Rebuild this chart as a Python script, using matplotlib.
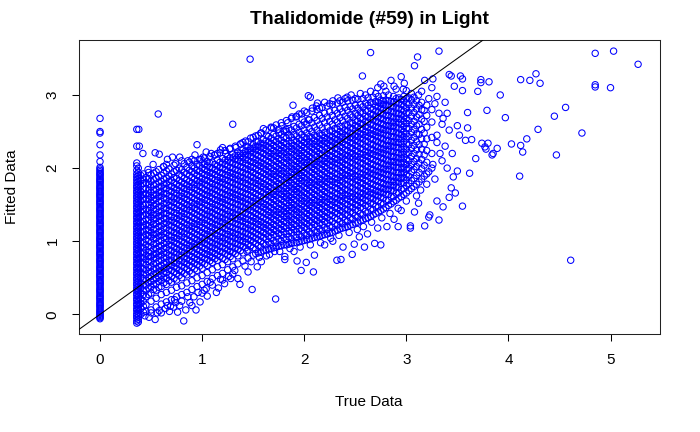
import matplotlib
matplotlib.use("Agg")
import matplotlib.pyplot as plt

plt.rcParams['font.family'] = ['Liberation Sans', 'DejaVu Sans']

# true = 0 column
zero_fit = [-0.06, -0.045, -0.03, -0.015, 0.00, 0.015, 0.03, 0.045, 0.06, 0.08, 0.10, 0.115, 0.13,
            0.145, 0.16, 0.18, 0.20, 0.215, 0.23, 0.245, 0.26, 0.28, 0.30, 0.315, 0.33, 0.345,
            0.36, 0.38, 0.40, 0.415, 0.43, 0.445, 0.46, 0.48, 0.50, 0.515, 0.53, 0.545, 0.56,
            0.58, 0.60, 0.615, 0.63, 0.645, 0.66, 0.68, 0.70, 0.715, 0.73, 0.745, 0.76, 0.78,
            0.80, 0.815, 0.83, 0.845, 0.86, 0.88, 0.90, 0.915, 0.93, 0.945, 0.96, 0.98, 1.00,
            1.015, 1.03, 1.045, 1.06, 1.08, 1.10, 1.115, 1.13, 1.145, 1.16, 1.18, 1.20, 1.215,
            1.23, 1.245, 1.26, 1.28, 1.30, 1.315, 1.33, 1.345, 1.36, 1.38, 1.40, 1.415, 1.43,
            1.445, 1.46, 1.48, 1.50, 1.515, 1.53, 1.545, 1.56, 1.58, 1.60, 1.615, 1.63, 1.645,
            1.66, 1.68, 1.70, 1.715, 1.73, 1.745, 1.76, 1.78, 1.80, 1.815, 1.83, 1.845, 1.86,
            1.88, 1.90, 1.915, 1.93, 1.95, 1.97, 1.99, 2.01, 2.09, 2.18, 2.32, 2.48, 2.50, 2.68]

# true ~ 0.36 column (two close strips)
low_true = [0.36, 0.375]
low_fit_a = [-0.12, -0.09, -0.05, -0.02, 0.01, 0.05, 0.08, 0.12, 0.15, 0.19, 0.22, 0.26, 0.29, 0.33,
             0.36, 0.40, 0.43, 0.47, 0.50, 0.54, 0.57, 0.61, 0.64, 0.68, 0.71, 0.75, 0.78, 0.82,
             0.85, 0.89, 0.92, 0.96, 0.99, 1.03, 1.06, 1.10, 1.13, 1.17, 1.20, 1.24, 1.27, 1.31,
             1.34, 1.38, 1.41, 1.45, 1.48, 1.52, 1.55, 1.59, 1.62, 1.66, 1.69, 1.73, 1.76, 1.80,
             1.84, 1.88, 1.92, 1.97, 2.03, 2.07, 2.30, 2.53]
low_fit_b = [-0.105, -0.07, -0.035, -0.005, 0.03, 0.065, 0.10, 0.135, 0.17, 0.205, 0.24, 0.275,
             0.31, 0.345, 0.38, 0.415, 0.45, 0.485, 0.52, 0.555, 0.59, 0.625, 0.66, 0.695, 0.73,
             0.765, 0.80, 0.835, 0.87, 0.905, 0.94, 0.975, 1.01, 1.045, 1.08, 1.115, 1.15, 1.185,
             1.22, 1.255, 1.29, 1.325, 1.36, 1.395, 1.43, 1.465, 1.50, 1.535, 1.57, 1.605, 1.64,
             1.675, 1.71, 1.745, 1.78, 1.82, 1.86, 1.90, 1.94, 2.00]

# main cloud, one list of fitted values per true-value strip
core_true = [0.40, 0.45, 0.50, 0.55, 0.60, 0.65, 0.70, 0.75, 0.80, 0.85, 0.90, 0.95,
             1.00, 1.05, 1.10, 1.15, 1.20, 1.25, 1.30, 1.35, 1.40, 1.45, 1.50, 1.55,
             1.60, 1.65, 1.70, 1.75, 1.80, 1.85, 1.90, 1.95, 2.00, 2.05, 2.10, 2.15,
             2.20, 2.25, 2.30, 2.35, 2.40, 2.45, 2.50, 2.55, 2.60, 2.65, 2.70, 2.75,
             2.80, 2.85, 2.90, 2.95, 3.00, 3.05, 3.10, 3.15, 3.20, 3.25]
core_fit = [
    [0.00, 0.08, 0.15, 0.21, 0.29, 0.36, 0.42, 0.50, 0.57, 0.63, 0.71, 0.78, 0.84, 0.92, 0.99, 1.05, 1.13, 1.20, 1.26, 1.34, 1.41, 1.47, 1.55, 1.62, 1.68, 1.76, 1.83, 1.90],
    [0.04, 0.13, 0.24, 0.33, 0.40, 0.47, 0.54, 0.61, 0.68, 0.75, 0.81, 0.88, 0.95, 1.02, 1.09, 1.16, 1.23, 1.30, 1.37, 1.44, 1.51, 1.58, 1.65, 1.72, 1.80, 1.87],
    [0.06, 0.18, 0.29, 0.38, 0.45, 0.52, 0.58, 0.66, 0.72, 0.79, 0.86, 0.92, 0.99, 1.06, 1.12, 1.19, 1.26, 1.33, 1.39, 1.46, 1.53, 1.60, 1.67, 1.74, 1.82, 1.91],
    [0.10, 0.22, 0.33, 0.42, 0.49, 0.56, 0.63, 0.70, 0.77, 0.83, 0.90, 0.97, 1.04, 1.10, 1.17, 1.24, 1.31, 1.37, 1.44, 1.51, 1.58, 1.64, 1.71, 1.78, 1.86, 1.95],
    [0.14, 0.27, 0.38, 0.47, 0.53, 0.60, 0.67, 0.74, 0.81, 0.87, 0.94, 1.01, 1.08, 1.14, 1.21, 1.28, 1.35, 1.41, 1.48, 1.55, 1.62, 1.68, 1.75, 1.82, 1.90],
    [0.17, 0.30, 0.41, 0.50, 0.57, 0.64, 0.71, 0.77, 0.84, 0.91, 0.98, 1.04, 1.11, 1.18, 1.25, 1.31, 1.38, 1.45, 1.52, 1.58, 1.65, 1.72, 1.79, 1.86, 1.96],
    [0.20, 0.33, 0.44, 0.52, 0.60, 0.67, 0.74, 0.80, 0.87, 0.94, 1.01, 1.07, 1.14, 1.21, 1.28, 1.34, 1.41, 1.48, 1.55, 1.61, 1.68, 1.75, 1.83, 1.92],
    [0.24, 0.37, 0.47, 0.56, 0.63, 0.70, 0.77, 0.84, 0.90, 0.97, 1.04, 1.11, 1.17, 1.24, 1.31, 1.38, 1.44, 1.51, 1.58, 1.65, 1.71, 1.78, 1.86, 1.97],
    [0.27, 0.39, 0.50, 0.59, 0.66, 0.73, 0.80, 0.86, 0.93, 1.00, 1.07, 1.13, 1.20, 1.27, 1.34, 1.40, 1.47, 1.54, 1.61, 1.67, 1.74, 1.81, 1.89, 1.98],
    [0.30, 0.43, 0.54, 0.62, 0.69, 0.76, 0.83, 0.90, 0.96, 1.03, 1.10, 1.17, 1.23, 1.30, 1.37, 1.44, 1.50, 1.57, 1.64, 1.71, 1.77, 1.84, 1.92, 2.01],
    [0.34, 0.46, 0.56, 0.65, 0.72, 0.79, 0.86, 0.93, 0.99, 1.06, 1.13, 1.20, 1.26, 1.33, 1.40, 1.47, 1.53, 1.60, 1.67, 1.74, 1.80, 1.87, 1.95, 2.03],
    [0.38, 0.50, 0.60, 0.68, 0.75, 0.82, 0.89, 0.96, 1.02, 1.09, 1.16, 1.23, 1.29, 1.36, 1.43, 1.50, 1.56, 1.63, 1.70, 1.77, 1.83, 1.90, 1.97, 2.05],
    [0.41, 0.53, 0.63, 0.71, 0.78, 0.85, 0.92, 0.99, 1.05, 1.12, 1.19, 1.26, 1.32, 1.39, 1.46, 1.53, 1.59, 1.66, 1.73, 1.80, 1.86, 1.93, 2.00, 2.07],
    [0.45, 0.57, 0.67, 0.75, 0.82, 0.88, 0.95, 1.02, 1.09, 1.15, 1.22, 1.29, 1.36, 1.42, 1.49, 1.56, 1.63, 1.69, 1.76, 1.83, 1.90, 1.96, 2.03, 2.09],
    [0.49, 0.61, 0.71, 0.78, 0.85, 0.92, 0.98, 1.05, 1.12, 1.19, 1.25, 1.32, 1.39, 1.46, 1.52, 1.59, 1.66, 1.73, 1.79, 1.86, 1.93, 2.00, 2.08],
    [0.53, 0.65, 0.74, 0.81, 0.88, 0.95, 1.02, 1.08, 1.15, 1.22, 1.29, 1.35, 1.42, 1.49, 1.56, 1.62, 1.69, 1.76, 1.83, 1.89, 1.96, 2.03, 2.11],
    [0.56, 0.68, 0.77, 0.85, 0.92, 0.99, 1.05, 1.12, 1.19, 1.26, 1.32, 1.39, 1.46, 1.53, 1.59, 1.66, 1.73, 1.80, 1.86, 1.93, 2.00, 2.07, 2.13],
    [0.61, 0.72, 0.81, 0.88, 0.95, 1.02, 1.09, 1.15, 1.22, 1.29, 1.36, 1.42, 1.49, 1.56, 1.63, 1.69, 1.76, 1.83, 1.90, 1.96, 2.03, 2.10, 2.16],
    [0.65, 0.76, 0.85, 0.92, 0.99, 1.06, 1.12, 1.19, 1.26, 1.33, 1.39, 1.46, 1.53, 1.60, 1.66, 1.73, 1.80, 1.87, 1.93, 2.00, 2.07, 2.14, 2.19],
    [0.69, 0.80, 0.89, 0.96, 1.03, 1.09, 1.16, 1.23, 1.30, 1.36, 1.43, 1.50, 1.57, 1.63, 1.70, 1.77, 1.84, 1.90, 1.97, 2.04, 2.11, 2.17, 2.22],
    [0.73, 0.84, 0.93, 1.00, 1.06, 1.13, 1.20, 1.27, 1.33, 1.40, 1.47, 1.54, 1.60, 1.67, 1.74, 1.81, 1.87, 1.94, 2.01, 2.08, 2.14, 2.20, 2.25],
    [0.77, 0.88, 0.96, 1.03, 1.10, 1.17, 1.23, 1.30, 1.37, 1.44, 1.50, 1.57, 1.64, 1.71, 1.77, 1.84, 1.91, 1.98, 2.04, 2.11, 2.18, 2.24, 2.29],
    [0.81, 0.91, 0.99, 1.06, 1.13, 1.20, 1.27, 1.33, 1.40, 1.47, 1.54, 1.60, 1.67, 1.74, 1.81, 1.87, 1.94, 2.01, 2.08, 2.14, 2.21, 2.27, 2.32],
    [0.84, 0.94, 1.02, 1.09, 1.16, 1.23, 1.29, 1.36, 1.43, 1.50, 1.56, 1.63, 1.70, 1.77, 1.83, 1.90, 1.97, 2.04, 2.10, 2.17, 2.24, 2.30, 2.36],
    [0.87, 0.97, 1.05, 1.12, 1.19, 1.25, 1.32, 1.39, 1.46, 1.52, 1.59, 1.66, 1.73, 1.79, 1.86, 1.93, 2.00, 2.06, 2.13, 2.20, 2.27, 2.33, 2.39],
    [0.89, 0.99, 1.07, 1.14, 1.21, 1.28, 1.35, 1.41, 1.48, 1.55, 1.62, 1.68, 1.75, 1.82, 1.89, 1.95, 2.02, 2.09, 2.16, 2.22, 2.29, 2.36, 2.43],
    [0.91, 1.01, 1.09, 1.16, 1.23, 1.30, 1.37, 1.43, 1.50, 1.57, 1.64, 1.70, 1.77, 1.84, 1.91, 1.97, 2.04, 2.11, 2.18, 2.24, 2.31, 2.38, 2.46],
    [0.93, 1.03, 1.11, 1.18, 1.25, 1.32, 1.39, 1.45, 1.52, 1.59, 1.66, 1.72, 1.79, 1.86, 1.93, 1.99, 2.06, 2.13, 2.20, 2.26, 2.33, 2.40, 2.48],
    [0.95, 1.05, 1.13, 1.20, 1.27, 1.34, 1.41, 1.47, 1.54, 1.61, 1.68, 1.74, 1.81, 1.88, 1.95, 2.01, 2.08, 2.15, 2.22, 2.28, 2.35, 2.42, 2.51],
    [0.96, 1.06, 1.14, 1.22, 1.29, 1.35, 1.42, 1.49, 1.56, 1.62, 1.69, 1.76, 1.83, 1.89, 1.96, 2.03, 2.10, 2.16, 2.23, 2.30, 2.37, 2.45, 2.54],
    [0.98, 1.08, 1.16, 1.23, 1.30, 1.37, 1.44, 1.50, 1.57, 1.64, 1.71, 1.77, 1.84, 1.91, 1.98, 2.04, 2.11, 2.18, 2.25, 2.31, 2.38, 2.46, 2.57],
    [0.99, 1.09, 1.17, 1.25, 1.32, 1.39, 1.45, 1.52, 1.59, 1.66, 1.72, 1.79, 1.86, 1.93, 1.99, 2.06, 2.13, 2.20, 2.26, 2.33, 2.40, 2.49, 2.60],
    [1.01, 1.11, 1.19, 1.26, 1.33, 1.40, 1.47, 1.54, 1.60, 1.67, 1.74, 1.81, 1.87, 1.94, 2.01, 2.08, 2.14, 2.21, 2.28, 2.35, 2.42, 2.52, 2.63],
    [1.03, 1.13, 1.21, 1.28, 1.35, 1.42, 1.49, 1.55, 1.62, 1.69, 1.76, 1.82, 1.89, 1.96, 2.03, 2.09, 2.16, 2.23, 2.30, 2.36, 2.43, 2.54, 2.66],
    [1.05, 1.15, 1.23, 1.30, 1.37, 1.44, 1.51, 1.57, 1.64, 1.71, 1.78, 1.84, 1.91, 1.98, 2.05, 2.11, 2.18, 2.25, 2.32, 2.38, 2.45, 2.56, 2.69],
    [1.07, 1.17, 1.25, 1.32, 1.39, 1.46, 1.53, 1.59, 1.66, 1.73, 1.80, 1.86, 1.93, 2.00, 2.07, 2.13, 2.20, 2.27, 2.34, 2.40, 2.47, 2.59, 2.72],
    [1.09, 1.19, 1.27, 1.34, 1.41, 1.48, 1.55, 1.61, 1.68, 1.75, 1.82, 1.88, 1.95, 2.02, 2.09, 2.15, 2.22, 2.29, 2.36, 2.42, 2.49, 2.62, 2.75],
    [1.11, 1.21, 1.29, 1.36, 1.43, 1.50, 1.57, 1.63, 1.70, 1.77, 1.84, 1.90, 1.97, 2.04, 2.11, 2.17, 2.24, 2.31, 2.38, 2.44, 2.51, 2.64, 2.77],
    [1.14, 1.24, 1.32, 1.39, 1.46, 1.53, 1.59, 1.66, 1.73, 1.80, 1.86, 1.93, 2.00, 2.07, 2.13, 2.20, 2.27, 2.34, 2.40, 2.47, 2.54, 2.66, 2.79],
    [1.17, 1.27, 1.35, 1.42, 1.49, 1.56, 1.62, 1.69, 1.76, 1.83, 1.89, 1.96, 2.03, 2.10, 2.16, 2.23, 2.30, 2.37, 2.43, 2.50, 2.57, 2.69, 2.81],
    [1.19, 1.29, 1.37, 1.44, 1.51, 1.58, 1.64, 1.71, 1.78, 1.85, 1.91, 1.98, 2.05, 2.12, 2.18, 2.25, 2.32, 2.39, 2.45, 2.52, 2.59, 2.71, 2.83],
    [1.22, 1.32, 1.40, 1.47, 1.54, 1.61, 1.67, 1.74, 1.81, 1.88, 1.94, 2.01, 2.08, 2.15, 2.21, 2.28, 2.35, 2.42, 2.48, 2.55, 2.62, 2.73, 2.84],
    [1.25, 1.35, 1.43, 1.50, 1.57, 1.63, 1.70, 1.77, 1.84, 1.90, 1.97, 2.04, 2.11, 2.17, 2.24, 2.31, 2.38, 2.44, 2.51, 2.58, 2.65, 2.75, 2.86],
    [1.28, 1.38, 1.46, 1.53, 1.60, 1.66, 1.73, 1.80, 1.87, 1.93, 2.00, 2.07, 2.14, 2.20, 2.27, 2.34, 2.41, 2.47, 2.54, 2.61, 2.68, 2.77, 2.87],
    [1.31, 1.41, 1.49, 1.56, 1.63, 1.69, 1.76, 1.83, 1.90, 1.96, 2.03, 2.10, 2.17, 2.23, 2.30, 2.37, 2.44, 2.50, 2.57, 2.64, 2.71, 2.79, 2.89],
    [1.34, 1.44, 1.52, 1.59, 1.66, 1.72, 1.79, 1.86, 1.93, 1.99, 2.06, 2.13, 2.20, 2.26, 2.33, 2.40, 2.47, 2.53, 2.60, 2.67, 2.74, 2.82, 2.90],
    [1.38, 1.48, 1.56, 1.63, 1.69, 1.76, 1.83, 1.90, 1.96, 2.03, 2.10, 2.17, 2.23, 2.30, 2.37, 2.44, 2.50, 2.57, 2.64, 2.71, 2.78, 2.85, 2.91],
    [1.42, 1.52, 1.60, 1.67, 1.73, 1.80, 1.87, 1.94, 2.00, 2.07, 2.14, 2.21, 2.27, 2.34, 2.41, 2.48, 2.54, 2.61, 2.68, 2.75, 2.82, 2.88, 2.93],
    [1.46, 1.56, 1.64, 1.71, 1.77, 1.84, 1.91, 1.98, 2.04, 2.11, 2.18, 2.25, 2.31, 2.38, 2.45, 2.52, 2.58, 2.65, 2.72, 2.79, 2.86, 2.93],
    [1.51, 1.61, 1.69, 1.76, 1.82, 1.89, 1.96, 2.03, 2.09, 2.16, 2.23, 2.30, 2.36, 2.43, 2.50, 2.57, 2.63, 2.70, 2.77, 2.84, 2.91],
    [1.56, 1.66, 1.74, 1.81, 1.87, 1.94, 2.01, 2.08, 2.14, 2.21, 2.28, 2.35, 2.41, 2.48, 2.55, 2.62, 2.68, 2.75, 2.82, 2.89, 2.95],
    [1.61, 1.71, 1.79, 1.86, 1.92, 1.99, 2.06, 2.13, 2.19, 2.26, 2.33, 2.40, 2.46, 2.53, 2.60, 2.67, 2.73, 2.80, 2.87, 2.94],
    [1.66, 1.76, 1.84, 1.91, 1.98, 2.05, 2.12, 2.19, 2.26, 2.33, 2.40, 2.47, 2.54, 2.61, 2.68, 2.75, 2.82, 2.89, 2.95],
    [1.72, 1.83, 1.95, 2.05, 2.16, 2.27, 2.38, 2.49, 2.60, 2.71, 2.82, 2.93],
    [1.78, 1.90, 2.02, 2.13, 2.25, 2.36, 2.47, 2.58, 2.70, 2.81, 2.92],
    [1.85, 1.99, 2.12, 2.26, 2.40, 2.53, 2.67, 2.80, 2.90],
    [1.92, 2.08, 2.24, 2.40, 2.56, 2.72, 2.86],
    [2.00, 2.20, 2.42, 2.63, 2.80],
]

# second set of strips between the first ones
mid_true = [0.425, 0.475, 0.525, 0.575, 0.625, 0.675, 0.725, 0.775, 0.825, 0.875, 0.925, 0.975,
            1.025, 1.075, 1.125, 1.175, 1.225, 1.275, 1.325, 1.375, 1.425, 1.475, 1.525, 1.575,
            1.625, 1.675, 1.725, 1.775, 1.825, 1.875, 1.925, 1.975, 2.025, 2.075, 2.125, 2.175,
            2.225, 2.275, 2.325, 2.375, 2.425, 2.475, 2.525, 2.575, 2.625, 2.675, 2.725, 2.775,
            2.825, 2.875, 2.925, 2.975, 3.025, 3.075, 3.125, 3.175]
mid_fit = [
    [0.03, 0.11, 0.18, 0.27, 0.33, 0.40, 0.49, 0.55, 0.62, 0.71, 0.77, 0.85, 0.91, 0.98, 1.07, 1.13, 1.21, 1.27, 1.35, 1.43, 1.49, 1.58, 1.64, 1.71, 1.79, 1.85, 1.92],
    [0.27, 0.36, 0.43, 0.50, 0.58, 0.64, 0.72, 0.79, 0.85, 0.93, 1.00, 1.08, 1.15, 1.21, 1.29, 1.36, 1.42, 1.50, 1.57, 1.63, 1.70, 1.78, 1.85, 1.94],
    [0.34, 0.41, 0.47, 0.55, 0.62, 0.69, 0.76, 0.82, 0.89, 0.96, 1.03, 1.09, 1.16, 1.23, 1.29, 1.36, 1.43, 1.49, 1.56, 1.63, 1.70, 1.77, 1.84, 1.93],
    [0.37, 0.45, 0.51, 0.59, 0.65, 0.73, 0.80, 0.86, 0.93, 1.00, 1.07, 1.13, 1.20, 1.27, 1.34, 1.40, 1.47, 1.54, 1.61, 1.67, 1.74, 1.81, 1.88, 1.98],
    [0.43, 0.50, 0.56, 0.63, 0.70, 0.77, 0.84, 0.90, 0.97, 1.05, 1.11, 1.18, 1.24, 1.31, 1.38, 1.45, 1.51, 1.59, 1.65, 1.72, 1.78, 1.85, 1.93, 2.02],
    [0.46, 0.54, 0.61, 0.67, 0.74, 0.81, 0.88, 0.95, 1.01, 1.08, 1.15, 1.22, 1.28, 1.35, 1.42, 1.49, 1.55, 1.62, 1.69, 1.76, 1.82, 1.89, 1.99],
    [0.49, 0.58, 0.65, 0.71, 0.78, 0.85, 0.92, 0.99, 1.05, 1.12, 1.19, 1.26, 1.32, 1.39, 1.46, 1.53, 1.59, 1.66, 1.73, 1.80, 1.87, 1.95, 2.04],
    [0.53, 0.60, 0.68, 0.74, 0.81, 0.88, 0.95, 1.02, 1.08, 1.15, 1.22, 1.29, 1.35, 1.42, 1.49, 1.56, 1.62, 1.69, 1.76, 1.83, 1.91, 2.00],
    [0.56, 0.64, 0.71, 0.77, 0.84, 0.91, 0.98, 1.05, 1.11, 1.18, 1.25, 1.32, 1.38, 1.45, 1.52, 1.59, 1.65, 1.72, 1.79, 1.86, 1.94, 2.06],
    [0.59, 0.67, 0.74, 0.81, 0.88, 0.94, 1.01, 1.08, 1.15, 1.21, 1.28, 1.35, 1.42, 1.48, 1.55, 1.62, 1.69, 1.75, 1.82, 1.90, 1.97, 2.08],
    [0.62, 0.70, 0.77, 0.84, 0.91, 0.97, 1.04, 1.11, 1.18, 1.24, 1.31, 1.38, 1.45, 1.51, 1.58, 1.65, 1.72, 1.78, 1.85, 1.93, 2.00, 2.10],
    [0.66, 0.73, 0.80, 0.87, 0.94, 1.00, 1.07, 1.14, 1.21, 1.27, 1.34, 1.41, 1.48, 1.54, 1.61, 1.68, 1.75, 1.81, 1.88, 1.96, 2.03, 2.12],
    [0.69, 0.76, 0.83, 0.90, 0.97, 1.03, 1.10, 1.17, 1.24, 1.30, 1.37, 1.44, 1.51, 1.57, 1.64, 1.71, 1.78, 1.84, 1.91, 1.98, 2.05, 2.14],
    [0.73, 0.80, 0.86, 0.93, 1.00, 1.07, 1.13, 1.20, 1.27, 1.34, 1.40, 1.47, 1.54, 1.61, 1.67, 1.74, 1.81, 1.88, 1.94, 2.01, 2.07, 2.16],
    [0.76, 0.83, 0.90, 0.96, 1.03, 1.10, 1.17, 1.23, 1.30, 1.37, 1.44, 1.50, 1.57, 1.64, 1.71, 1.77, 1.84, 1.91, 1.98, 2.05, 2.18],
    [0.79, 0.86, 0.93, 1.00, 1.06, 1.13, 1.20, 1.27, 1.33, 1.40, 1.47, 1.54, 1.60, 1.67, 1.74, 1.81, 1.87, 1.94, 2.01, 2.08, 2.21],
    [0.75, 0.83, 0.90, 0.97, 1.03, 1.10, 1.17, 1.24, 1.30, 1.37, 1.44, 1.51, 1.57, 1.64, 1.71, 1.78, 1.84, 1.91, 1.98, 2.05, 2.11, 2.24],
    [0.79, 0.86, 0.93, 1.00, 1.07, 1.13, 1.20, 1.27, 1.34, 1.40, 1.47, 1.54, 1.61, 1.67, 1.74, 1.81, 1.88, 1.94, 2.01, 2.08, 2.14, 2.27],
    [0.83, 0.90, 0.97, 1.04, 1.10, 1.17, 1.24, 1.31, 1.37, 1.44, 1.51, 1.58, 1.64, 1.71, 1.78, 1.85, 1.91, 1.98, 2.05, 2.12, 2.17, 2.30],
    [0.87, 0.94, 1.01, 1.07, 1.14, 1.21, 1.28, 1.34, 1.41, 1.48, 1.55, 1.61, 1.68, 1.75, 1.82, 1.88, 1.95, 2.02, 2.09, 2.15, 2.20, 2.33],
    [0.91, 0.98, 1.04, 1.11, 1.18, 1.25, 1.31, 1.38, 1.45, 1.52, 1.58, 1.65, 1.72, 1.79, 1.85, 1.92, 1.99, 2.06, 2.12, 2.18, 2.23, 2.37],
    [0.94, 1.01, 1.08, 1.15, 1.21, 1.28, 1.35, 1.42, 1.48, 1.55, 1.62, 1.69, 1.75, 1.82, 1.89, 1.96, 2.02, 2.09, 2.16, 2.22, 2.27, 2.41],
    [0.83, 0.89, 0.97, 1.04, 1.11, 1.18, 1.25, 1.31, 1.38, 1.45, 1.52, 1.58, 1.65, 1.72, 1.79, 1.85, 1.92, 1.99, 2.06, 2.12, 2.19, 2.25, 2.30, 2.44],
    [0.85, 0.92, 1.00, 1.07, 1.14, 1.21, 1.27, 1.34, 1.41, 1.48, 1.54, 1.61, 1.68, 1.75, 1.81, 1.88, 1.95, 2.02, 2.08, 2.15, 2.22, 2.28, 2.34, 2.48],
    [0.88, 0.95, 1.03, 1.10, 1.17, 1.23, 1.30, 1.37, 1.44, 1.50, 1.57, 1.64, 1.71, 1.77, 1.84, 1.91, 1.98, 2.04, 2.11, 2.18, 2.25, 2.31, 2.37, 2.52],
    [0.90, 0.96, 1.05, 1.12, 1.19, 1.26, 1.33, 1.39, 1.46, 1.53, 1.60, 1.66, 1.73, 1.80, 1.87, 1.93, 2.00, 2.07, 2.14, 2.20, 2.27, 2.34, 2.41, 2.56],
    [0.92, 0.98, 1.07, 1.14, 1.21, 1.28, 1.35, 1.41, 1.48, 1.55, 1.62, 1.68, 1.75, 1.82, 1.89, 1.95, 2.02, 2.09, 2.16, 2.22, 2.29, 2.36, 2.44, 2.59],
    [0.94, 1.00, 1.09, 1.16, 1.23, 1.30, 1.37, 1.43, 1.50, 1.57, 1.64, 1.70, 1.77, 1.84, 1.91, 1.97, 2.04, 2.11, 2.18, 2.24, 2.31, 2.38, 2.46, 2.62],
    [0.95, 1.02, 1.10, 1.18, 1.25, 1.32, 1.38, 1.45, 1.52, 1.59, 1.65, 1.72, 1.79, 1.86, 1.92, 1.99, 2.06, 2.13, 2.19, 2.26, 2.33, 2.41, 2.50, 2.65],
    [0.97, 1.03, 1.12, 1.19, 1.26, 1.33, 1.40, 1.46, 1.53, 1.60, 1.67, 1.73, 1.80, 1.87, 1.94, 2.00, 2.07, 2.14, 2.21, 2.27, 2.34, 2.42, 2.52, 2.68],
    [0.98, 1.05, 1.13, 1.21, 1.28, 1.35, 1.41, 1.48, 1.55, 1.62, 1.68, 1.75, 1.82, 1.89, 1.95, 2.02, 2.09, 2.16, 2.22, 2.29, 2.36, 2.44, 2.55, 2.71],
    [1.00, 1.06, 1.15, 1.22, 1.29, 1.36, 1.43, 1.50, 1.56, 1.63, 1.70, 1.77, 1.83, 1.90, 1.97, 2.04, 2.10, 2.17, 2.24, 2.31, 2.38, 2.46, 2.58, 2.74],
    [1.02, 1.08, 1.17, 1.24, 1.31, 1.38, 1.45, 1.52, 1.58, 1.65, 1.72, 1.79, 1.85, 1.92, 1.99, 2.06, 2.12, 2.19, 2.26, 2.33, 2.40, 2.48, 2.60, 2.76],
    [1.04, 1.10, 1.19, 1.26, 1.33, 1.40, 1.47, 1.53, 1.60, 1.67, 1.74, 1.80, 1.87, 1.94, 2.01, 2.07, 2.14, 2.21, 2.28, 2.34, 2.41, 2.50, 2.62, 2.78],
    [1.06, 1.12, 1.21, 1.28, 1.35, 1.42, 1.49, 1.55, 1.62, 1.69, 1.76, 1.82, 1.89, 1.96, 2.03, 2.09, 2.16, 2.23, 2.30, 2.36, 2.43, 2.52, 2.65, 2.80],
    [1.08, 1.14, 1.23, 1.30, 1.37, 1.44, 1.51, 1.57, 1.64, 1.71, 1.78, 1.84, 1.91, 1.98, 2.05, 2.11, 2.18, 2.25, 2.32, 2.38, 2.45, 2.55, 2.68, 2.83],
    [1.10, 1.16, 1.25, 1.32, 1.39, 1.46, 1.53, 1.59, 1.66, 1.73, 1.80, 1.86, 1.93, 2.00, 2.07, 2.13, 2.20, 2.27, 2.34, 2.40, 2.47, 2.57, 2.70, 2.85],
    [1.12, 1.19, 1.27, 1.35, 1.42, 1.49, 1.55, 1.62, 1.69, 1.76, 1.82, 1.89, 1.96, 2.03, 2.09, 2.16, 2.23, 2.30, 2.36, 2.43, 2.50, 2.60, 2.72, 2.87],
    [1.15, 1.22, 1.30, 1.38, 1.45, 1.52, 1.58, 1.65, 1.72, 1.79, 1.85, 1.92, 1.99, 2.06, 2.12, 2.19, 2.26, 2.33, 2.39, 2.46, 2.53, 2.63, 2.75, 2.89],
    [1.18, 1.24, 1.33, 1.40, 1.47, 1.54, 1.61, 1.67, 1.74, 1.81, 1.88, 1.94, 2.01, 2.08, 2.15, 2.21, 2.28, 2.35, 2.42, 2.48, 2.55, 2.65, 2.77, 2.90],
    [1.20, 1.27, 1.36, 1.43, 1.50, 1.57, 1.63, 1.70, 1.77, 1.84, 1.90, 1.97, 2.04, 2.11, 2.17, 2.24, 2.31, 2.38, 2.44, 2.51, 2.58, 2.68, 2.79, 2.92],
    [1.23, 1.30, 1.39, 1.46, 1.53, 1.60, 1.66, 1.73, 1.80, 1.87, 1.93, 2.00, 2.07, 2.14, 2.20, 2.27, 2.34, 2.41, 2.47, 2.54, 2.61, 2.70, 2.81, 2.93],
    [1.26, 1.33, 1.42, 1.49, 1.56, 1.62, 1.69, 1.76, 1.83, 1.89, 1.96, 2.03, 2.10, 2.16, 2.23, 2.30, 2.37, 2.43, 2.50, 2.57, 2.64, 2.72, 2.82, 2.94],
    [1.29, 1.36, 1.45, 1.52, 1.59, 1.65, 1.72, 1.79, 1.86, 1.92, 1.99, 2.06, 2.13, 2.19, 2.26, 2.33, 2.40, 2.46, 2.53, 2.60, 2.67, 2.75, 2.84, 2.95],
    [1.32, 1.39, 1.48, 1.55, 1.62, 1.68, 1.75, 1.82, 1.89, 1.95, 2.02, 2.09, 2.16, 2.22, 2.29, 2.36, 2.43, 2.49, 2.56, 2.63, 2.70, 2.78, 2.86, 2.96],
    [1.36, 1.43, 1.51, 1.58, 1.65, 1.71, 1.78, 1.85, 1.92, 1.98, 2.05, 2.12, 2.19, 2.25, 2.32, 2.39, 2.46, 2.52, 2.59, 2.66, 2.73, 2.80, 2.88, 2.97],
    [1.40, 1.47, 1.55, 1.62, 1.68, 1.75, 1.82, 1.89, 1.95, 2.02, 2.09, 2.16, 2.22, 2.29, 2.36, 2.43, 2.49, 2.56, 2.63, 2.70, 2.77, 2.84, 2.90, 2.98],
    [1.44, 1.51, 1.59, 1.66, 1.72, 1.79, 1.86, 1.93, 1.99, 2.06, 2.13, 2.20, 2.26, 2.33, 2.40, 2.47, 2.53, 2.60, 2.67, 2.74, 2.81, 2.87, 2.92, 2.99],
    [1.49, 1.56, 1.64, 1.71, 1.77, 1.84, 1.91, 1.98, 2.04, 2.11, 2.18, 2.25, 2.31, 2.38, 2.45, 2.52, 2.58, 2.65, 2.72, 2.79, 2.86, 2.92, 3.00],
    [1.54, 1.61, 1.69, 1.76, 1.82, 1.89, 1.96, 2.03, 2.09, 2.16, 2.23, 2.30, 2.36, 2.43, 2.50, 2.57, 2.63, 2.70, 2.77, 2.84, 2.91, 2.98],
    [1.59, 1.66, 1.74, 1.81, 1.87, 1.94, 2.01, 2.08, 2.14, 2.21, 2.28, 2.35, 2.41, 2.48, 2.55, 2.62, 2.68, 2.75, 2.82, 2.89, 2.96],
    [1.64, 1.72, 1.80, 1.87, 1.94, 2.01, 2.08, 2.15, 2.22, 2.29, 2.36, 2.43, 2.50, 2.57, 2.64, 2.71, 2.78, 2.85, 2.92, 2.98],
    [1.69, 1.79, 1.89, 2.00, 2.10, 2.21, 2.32, 2.43, 2.54, 2.65, 2.76, 2.87, 2.96],
    [1.75, 1.86, 1.98, 2.09, 2.20, 2.31, 2.42, 2.53, 2.64, 2.76, 2.87, 2.97],
    [1.81, 1.94, 2.07, 2.19, 2.32, 2.46, 2.60, 2.73, 2.86],
    [1.89, 2.04, 2.18, 2.33, 2.48, 2.64, 2.79],
]

# ragged points along the upper and lower edges of the cloud
edge_true = [0.47, 0.52, 0.62, 0.66, 0.74, 0.78, 0.86, 0.93, 0.99, 1.04, 1.12, 1.18, 1.23, 1.33,
             1.38, 1.43, 1.50, 1.58, 1.63, 1.70, 1.78, 1.84, 1.88, 1.95, 2.00, 2.08, 2.12, 2.20,
             2.28, 2.33, 2.40, 2.46, 2.55, 2.65, 2.72, 2.78, 2.88, 2.97, 3.05, 3.12, 3.22, 3.28,
             3.32, 3.36, 3.42, 3.30, 3.33, 3.26, 3.22, 3.20, 3.14, 3.10, 3.00,
             0.50, 0.58, 0.66, 0.74, 0.80, 0.86, 0.96, 1.04, 1.08, 1.18, 1.26, 1.32, 1.42, 1.48,
             1.56, 1.66, 1.76, 1.86, 1.96, 2.06, 2.16, 2.26, 2.34, 2.44, 2.52, 2.58, 2.66, 2.76,
             2.84, 2.92]
edge_fit = [1.98, 2.05, 2.02, 2.12, 2.06, 2.15, 2.10, 2.18, 2.12, 2.22, 2.18, 2.25, 2.20, 2.28,
            2.33, 2.30, 2.42, 2.48, 2.45, 2.55, 2.58, 2.62, 2.70, 2.74, 2.78, 2.82, 2.85, 2.90,
            2.92, 2.96, 2.95, 3.00, 3.02, 3.05, 3.10, 3.12, 3.12, 3.08, 3.02, 3.00, 2.95, 2.88,
            2.75, 2.68, 2.52, 2.35, 2.20, 2.05, 1.95, 1.78, 1.70, 1.62, 1.55,
            0.02, 0.05, 0.12, 0.16, 0.18, 0.24, 0.30, 0.35, 0.44, 0.48, 0.52, 0.60, 0.66, 0.72,
            0.78, 0.82, 0.86, 0.90, 0.92, 0.95, 0.98, 1.04, 1.08, 1.12, 1.16, 1.20, 1.26, 1.32,
            1.38, 1.45]

# scattered points below the main cloud
below_true = [0.54, 0.64, 0.72, 0.69, 0.73, 0.82, 0.84, 0.94, 0.92, 0.98, 1.00, 1.14, 1.16, 1.28,
              1.35, 1.37, 1.45, 1.49, 1.54, 1.72, 0.60, 0.78, 0.88, 1.05, 1.10, 1.22, 1.30, 0.48,
              0.44, 0.56, 0.68, 0.76, 0.90, 1.02, 1.20, 1.63, 1.71, 1.44, 1.81, 1.81, 1.93, 1.97,
              2.02, 2.09, 2.10, 2.32, 2.36, 2.38, 2.47, 2.49, 2.54, 2.59, 2.69, 2.75, 2.81, 2.92,
              3.04, 3.04, 3.18, 3.22, 3.23, 3.32, 1.58, 1.90, 2.20, 2.28, 2.62, 2.72, 2.88, 2.95,
              3.08, 3.12, 3.30, 3.36, 3.42]
below_fit = [-0.07, 0.08, 0.10, 0.11, 0.20, -0.09, 0.06, 0.06, 0.24, 0.17, 0.29, 0.30, 0.36, 0.49,
             0.49, 0.41, 0.58, 0.34, 0.65, 0.21, 0.02, 0.12, 0.16, 0.25, 0.40, 0.42, 0.55, -0.04,
             -0.02, 0.02, 0.04, 0.03, 0.12, 0.33, 0.47, 0.80, 0.86, 0.86, 0.75, 0.79, 0.73, 0.60,
             0.71, 0.58, 0.81, 0.74, 0.75, 0.92, 0.82, 0.96, 1.06, 0.92, 0.97, 0.95, 1.20, 1.20,
             1.18, 1.21, 1.21, 1.33, 1.36, 1.29, 0.72, 0.86, 0.95, 1.00, 1.10, 1.18, 1.30, 1.42,
             1.40, 1.52, 1.55, 1.47, 1.60]

# scattered points above and to the right of the cloud
above_true = [0.38, 0.385, 0.42, 0.54, 0.58, 0.57, 0.71, 0.95, 1.01, 1.09, 1.27, 1.30, 1.45, 1.47,
              1.53, 1.60, 1.75, 1.82, 1.89, 1.98, 2.04, 2.04, 2.06, 2.13, 2.42, 2.57, 2.65, 2.98,
              3.08, 3.11, 3.26, 3.32, 3.42, 3.44, 3.53, 3.55, 3.47, 3.55, 3.70, 3.73, 3.73, 3.81,
              3.92, 4.12, 4.21, 4.27, 4.31, 4.85, 5.03, 5.27, 4.85, 4.85, 5.00, 4.56, 4.45, 4.29,
              4.72, 4.18, 4.03, 4.12, 4.14, 4.47, 4.11, 3.97, 3.79, 3.60, 3.50, 3.89, 3.85, 3.84,
              3.80, 3.74, 3.77, 3.78, 3.68, 3.62, 3.55, 3.48, 3.44, 3.50, 3.58, 3.64, 4.61,
              0.65, 0.80, 0.90, 1.15, 1.20, 1.40, 1.55, 1.68, 1.92, 2.15, 2.25, 2.35, 2.50, 2.60,
              2.70, 2.80, 2.90, 3.00, 3.15, 3.30, 3.38, 3.40, 3.35, 3.30, 3.38, 3.45, 3.35, 3.40,
              3.28, 3.46, 3.52, 3.60, 3.25, 3.18, 2.95, 2.85, 2.75]
above_fit = [2.53, 2.30, 2.20, 2.21, 2.19, 2.74, 2.15, 2.32, 2.15, 2.20, 2.26, 2.60, 2.36, 3.49,
             2.36, 2.54, 2.53, 2.53, 2.86, 2.67, 2.66, 2.99, 2.97, 2.89, 2.97, 3.26, 3.58, 3.16,
             3.40, 3.52, 3.22, 3.60, 3.28, 3.26, 3.26, 3.22, 3.12, 3.06, 3.05, 3.21, 3.17, 3.18,
             3.00, 3.21, 3.20, 3.29, 3.16, 3.57, 3.60, 3.42, 3.14, 3.11, 3.10, 2.83, 2.71, 2.53,
             2.48, 2.40, 2.33, 2.31, 2.22, 2.18, 1.89, 2.69, 2.79, 2.76, 2.58, 2.27, 2.20, 2.18,
             2.34, 2.34, 2.29, 2.26, 2.13, 1.93, 1.48, 1.66, 1.73, 1.96, 2.38, 2.39, 0.74,
             2.05, 2.10, 2.12, 2.20, 2.28, 2.35, 2.45, 2.55, 2.70, 2.82, 2.88, 2.92, 2.95, 3.00,
             3.02, 3.05, 3.08, 3.06, 3.05, 2.98, 2.90, 2.75, 2.60, 2.45, 2.30, 2.20, 2.10, 2.00,
             1.85, 1.88, 2.45, 2.55, 3.10, 3.20, 3.25, 3.20, 3.15]

x_ticks = [0, 1, 2, 3, 4, 5]
y_ticks = [0, 1, 2, 3]

# flatten everything into one series
true_vals = [0.0] * len(zero_fit) + [low_true[0]] * len(low_fit_a) + [low_true[1]] * len(low_fit_b)
fit_vals = zero_fit + low_fit_a + low_fit_b
for xs, yss in [(core_true, core_fit), (mid_true, mid_fit)]:
    for xv, ys in zip(xs, yss):
        true_vals += [xv] * len(ys)
        fit_vals += ys
true_vals += edge_true + below_true + above_true
fit_vals += edge_fit + below_fit + above_fit

fig = plt.figure(figsize=(7, 4.32), dpi=100)
ax = fig.add_axes([0.1124, 0.2275, 0.9429 - 0.1124, 0.9067 - 0.2275])

ax.scatter(true_vals, fit_vals, s=21, facecolors='none', edgecolors='#0000ff', linewidths=0.75, zorder=2)
ax.axline((0, 0), slope=1, color='black', lw=0.75, zorder=3)

ax.set_xlim(-0.209, 5.485)
ax.set_ylim(-0.265, 3.748)
ax.set_xticks(x_ticks)
ax.set_yticks(y_ticks)
ax.tick_params(length=5.2, width=0.75, labelsize=11, color='black')
ax.tick_params(axis='x', pad=9)
ax.tick_params(axis='y', pad=8.5, labelrotation=90)
for lab in ax.get_yticklabels():
    lab.set_va('center')
for sp in ax.spines.values():
    sp.set_linewidth(0.75)
    sp.set_color('#222222')

fig.text(369 / 700, 1 - 20 / 432, "Thalidomide (#59) in Light", ha='center', va='center',
         fontsize=13.9, fontweight='bold')
fig.text(369 / 700, 1 - 402 / 432, "True Data", ha='center', va='center', fontsize=11)
fig.text(12 / 700, 1 - 187 / 432, "Fitted Data", ha='center', va='center', fontsize=11, rotation=90)

fig.savefig("out.png", dpi=100)
